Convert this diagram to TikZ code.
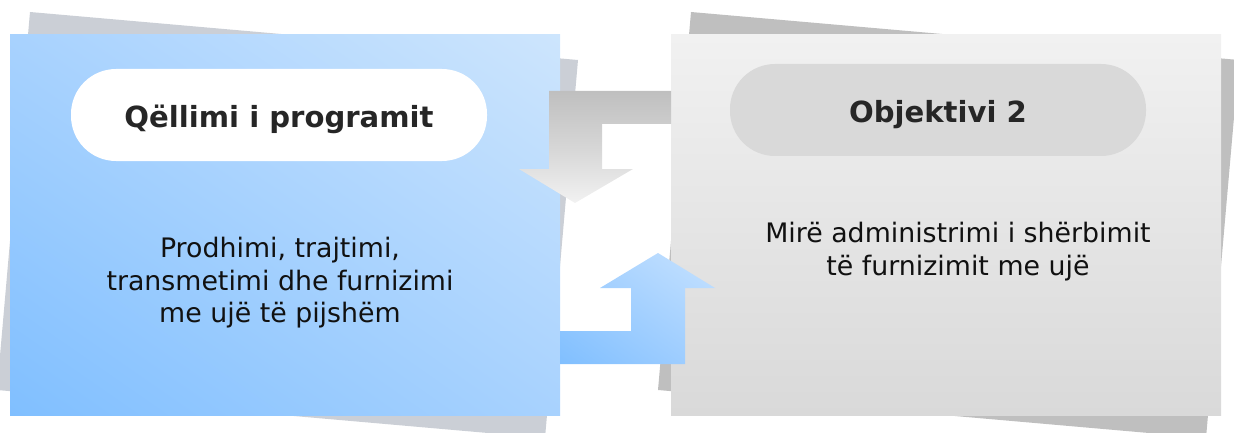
\documentclass[tikz,border=0pt]{standalone}
\usepackage{fontspec}
\setmainfont{DejaVu Sans}
\usetikzlibrary{shadings}
\definecolor{shadowL}{HTML}{CBCFD6}
\definecolor{shadowR}{HTML}{BFBFBF}
\definecolor{blueA}{HTML}{80BFFF}
\definecolor{blueB}{HTML}{A8D2FE}
\definecolor{blueC}{HTML}{CDE5FD}
\definecolor{greyTop}{HTML}{F1F1F1}
\definecolor{greyBot}{HTML}{D9D9D9}
\definecolor{pillR}{HTML}{D9D9D9}
\definecolor{titletext}{HTML}{262626}
\definecolor{bodytext}{HTML}{111111}
\definecolor{arrTop}{HTML}{BFBFBF}
\definecolor{arrBot}{HTML}{F2F2F2}
\definecolor{arrBlueA}{HTML}{80BFFF}
\definecolor{arrBlueB}{HTML}{A4D0FF}
\definecolor{arrBlueC}{HTML}{C6E2FF}
\begin{document}
\begin{tikzpicture}[x=1pt,y=-1pt,
  panel/.style={rectangle, minimum width=550pt, minimum height=380pt, inner sep=0pt},
  pill/.style={rectangle, rounded corners=45pt, minimum width=416pt, minimum height=92pt, inner sep=0pt,
    text height=26pt, text depth=0pt,
    font=\fontsize{29.1}{34}\selectfont\bfseries, text=titletext},
  body/.style={align=center, font=\fontsize{26.8}{32.5}\selectfont, text=bodytext, inner sep=0pt}
]
\useasboundingbox (0,0) rectangle (1234,433);
% shadow papers
\fill[shadowL] (30,12) -- (578,60) -- (545,438) -- (-3,390) -- cycle;
\fill[shadowR] (691,12) -- (1239,60) -- (1206,438) -- (658,390) -- cycle;
% panels
\node[panel, shade, lower left=blueA, upper right=blueC, upper left=blueB, lower right=blueB]
  (left) at (285,225) {};
\node[panel, shade, top color=greyTop, bottom color=greyBot] (right) at (946,225) {};
% top (grey) arrow
\shade[top color=arrTop, bottom color=arrBot, middle color=arrTop!55!arrBot]
  (671,91) -- (549,91) -- (549,169) -- (519,169) -- (575,203) -- (633,169)
  -- (602,169) -- (602,124) -- (671,124) -- cycle;
% bottom (blue) arrow
\shade[lower left=arrBlueA, upper right=arrBlueC, upper left=arrBlueB, lower right=arrBlueB]
  (560,331) -- (631,331) -- (631,288) -- (600,288) -- (658,253) -- (715,288)
  -- (685,288) -- (685,364) -- (560,364) -- cycle;
% pills
\node[pill, fill=white] (t1) at (279,115) {Qëllimi i programit};
\node[pill, fill=pillR] (t2) at (938,110) {Objektivi 2};
% body texts
\node[body] (b1) at (280,283) {Prodhimi, trajtimi,\\transmetimi dhe furnizimi\\me ujë të pijshëm};
\node[body] (b2) at (958,251.5) {Mirë administrimi i shërbimit\\të furnizimit me ujë};
\end{tikzpicture}
\end{document}
